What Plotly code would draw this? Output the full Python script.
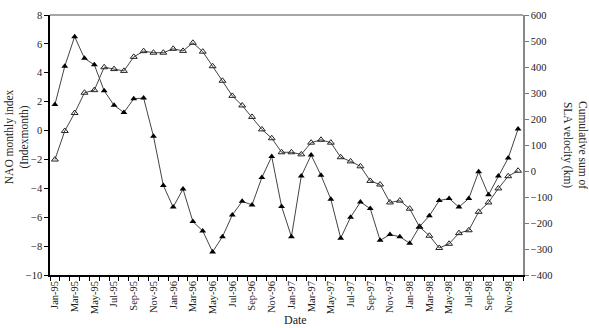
import plotly.graph_objects as go

months = ["Jan", "Feb", "Mar", "Apr", "May", "Jun", "Jul", "Aug", "Sep", "Oct", "Nov", "Dec"]
years = ["95", "96", "97", "98"]
dates = [f"{m}-{y}" for y in years for m in months]

nao = [1.8, 4.45, 6.5, 5.0, 4.55, 2.75, 1.75, 1.25, 2.2, 2.25, -0.4, -3.8,
       -5.3, -4.05, -6.3, -6.95, -8.4, -7.35, -5.85, -4.9, -5.15, -3.25, -1.8, -5.25,
       -7.35, -3.15, -1.7, -3.1, -4.75, -7.45, -6.0, -4.95, -5.4, -7.6, -7.2, -7.35,
       -7.8, -6.65, -5.9, -4.85, -4.7, -5.3, -4.7, -2.85, -4.45, -3.15, -1.9, 0.1]

cum_sla = [44, 154, 223, 301, 311, 399, 392, 385, 439, 461, 455, 455,
           470, 462, 493, 459, 403, 347, 289, 252, 208, 160, 126, 72,
           72, 64, 109, 120, 109, 53, 37, 18, -38, -52, -121, -114,
           -145, -215, -249, -296, -280, -239, -228, -157, -121, -67, -20, 1]

tick_text = [d if i % 2 == 0 else "" for i, d in enumerate(dates)]

FONT = "Liberation Serif"

fig = go.Figure()
fig.add_trace(go.Scatter(
    x=dates, y=cum_sla, yaxis="y2", mode="lines+markers",
    line=dict(color="#444444", width=1),
    marker=dict(symbol="triangle-up-open", size=6, color="#222222", line=dict(width=1)),
    showlegend=False))
fig.add_trace(go.Scatter(
    x=dates, y=nao, mode="lines+markers",
    line=dict(color="#444444", width=1),
    marker=dict(symbol="triangle-up", size=6, color="#000000"),
    showlegend=False))

fig.update_layout(
    width=589, height=328,
    margin=dict(l=50, r=66, t=10, b=53),
    paper_bgcolor="white", plot_bgcolor="white",
    font=dict(family=FONT, size=10, color="#222222"),
    xaxis=dict(
        type="category", tickmode="array", tickvals=dates, ticktext=tick_text,
        tickson="boundaries", ticks="outside", ticklen=4, tickcolor="#000",
        tickangle=-90, showline=True, linecolor="#000", linewidth=1.5,
        showgrid=False, zeroline=False, range=[-0.5, 47.5],
        tickfont=dict(family=FONT, size=10.5)),
    yaxis=dict(
        range=[-10, 8], dtick=2, ticks="outside", ticklen=4, tickcolor="#000",
        showline=True, linecolor="#000", linewidth=1.5, showgrid=False,
        zeroline=False, tickfont=dict(family=FONT, size=10.5)),
    yaxis2=dict(
        range=[-400, 600], dtick=100, overlaying="y", side="right",
        ticks="outside", ticklen=4, tickcolor="#777", showline=True,
        linecolor="#888", linewidth=1.5, showgrid=False, zeroline=False,
        tickfont=dict(family=FONT, size=10.5)),
    shapes=[dict(type="line", xref="paper", yref="paper", x0=0, x1=1, y0=1, y1=1,
                 line=dict(color="#888888", width=1.5))],
    annotations=[
        dict(text="Date", xref="paper", yref="paper", x=0.52, y=0, yshift=-45,
             showarrow=False, font=dict(family=FONT, size=12), yanchor="middle"),
        dict(text="NAO monthly index<br>(Indexmonth)", xref="paper", yref="paper",
             x=0, xshift=-33, y=0.53, textangle=-90, showarrow=False,
             font=dict(family=FONT, size=11.5), xanchor="center", yanchor="middle"),
        dict(text="Cumulative sum of<br>SLA velocity (km)", xref="paper", yref="paper",
             x=1, xshift=52, y=0.5, textangle=90, showarrow=False,
             font=dict(family=FONT, size=11.5), xanchor="center", yanchor="middle"),
    ],
)

fig.write_html("out.html")
